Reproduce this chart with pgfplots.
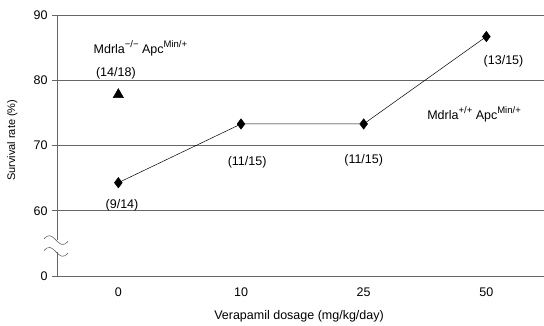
\documentclass[border=0pt]{standalone}
\usepackage{pgfplots}
\pgfplotsset{compat=1.18}
\usepackage{fontspec}
\setmainfont{Liberation Sans}
\newcommand{\supx}[1]{\raisebox{0.85ex}{\fontsize{9.5}{11}\selectfont #1}}
\begin{document}
\begin{tikzpicture}[font=\fontsize{12.5}{15}\selectfont]
\path[use as bounding box] (-57pt,-49pt) rectangle (487pt,276pt);
\begin{axis}[
  at={(0,0)}, anchor=south west,
  scale only axis, width=487pt, height=261pt,
  xmin=-0.5, xmax=3.47, ymin=50, ymax=90,
  axis x line=bottom, axis y line=left,
  axis line style={-, gray!80!black, line width=0.6pt},
  xtick={0,1,2,3}, xticklabels={0,10,25,50},
  major x tick style={draw=none},
  extra x ticks={-0.5,0.5,1.5,2.5}, extra x tick labels={},
  extra x tick style={tick style={gray!80!black, line width=0.6pt}, major tick length=5pt, tick align=outside},
  ytick={50,60,70,80,90}, yticklabels={0,60,70,80,90},
  ymajorgrids, grid style={gray!80!black, line width=0.6pt},
  ytick style={gray!80!black, line width=0.6pt},
  tick align=outside, major tick length=5pt,
  xticklabel style={yshift=-3pt},
  yticklabel style={xshift=-1pt},
  /pgf/number format/assume math mode=true,
  xlabel={Verapamil dosage (mg/kg/day)},
  ylabel={Survival rate (\%)},
  xlabel style={at={(axis description cs:0.497,-0.153)}, anchor=center},
  ylabel style={at={(axis description cs:-0.092,0.52)}, anchor=center, font=\fontsize{11}{13}\selectfont},
  clip=false,
]
\addplot[black, line width=0.5pt, mark=diamond*, mark size=5.2pt, mark options={fill=black}]
  coordinates {(0,64.3) (1,73.3) (2,73.3) (3,86.7)};
\addplot[only marks, mark=triangle*, mark size=6pt, fill=black, draw=black]
  coordinates {(0,77.8)};
\node at (axis cs:0.03,60.9) {(9/14)};
\node at (axis cs:1.05,67.5) {(11/15)};
\node at (axis cs:2.0,67.8) {(11/15)};
\node at (axis cs:3.14,82.9) {(13/15)};
\node at (axis cs:-0.02,81.1) {(14/18)};
\node at (axis cs:0.18,84.9) {Mdrla\supx{−/−} Apc\supx{Min/+}};
\node at (axis cs:2.9,74.8) {Mdrla\supx{+/+} Apc\supx{Min/+}};
% axis break
\fill[white] ([xshift=-2pt]axis cs:-0.5,55.5) rectangle ([xshift=2pt]axis cs:-0.5,53.7);
\draw[gray!80!black, line width=0.6pt] ([xshift=-13pt]axis cs:-0.5,55.7)
  .. controls +(5pt,5pt) and +(-5pt,5pt) .. ([xshift=-1pt]axis cs:-0.5,55.5)
  .. controls +(5pt,-5pt) and +(-5pt,-5pt) .. ([xshift=11pt]axis cs:-0.5,55.3);
\draw[gray!80!black, line width=0.6pt] ([xshift=-13pt]axis cs:-0.5,53.9)
  .. controls +(5pt,5pt) and +(-5pt,5pt) .. ([xshift=-1pt]axis cs:-0.5,53.7)
  .. controls +(5pt,-5pt) and +(-5pt,-5pt) .. ([xshift=11pt]axis cs:-0.5,53.5);
\end{axis}
\end{tikzpicture}
\end{document}
